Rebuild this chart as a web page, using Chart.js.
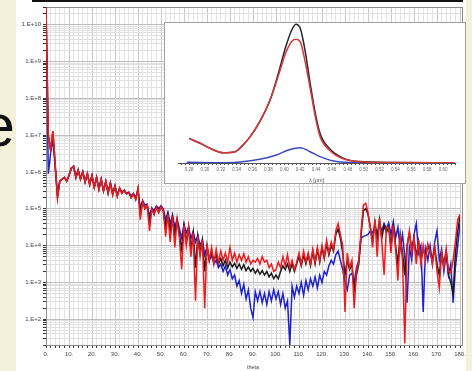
<!DOCTYPE html>
<html>
<head>
<meta charset="utf-8">
<script src="https://cdn.jsdelivr.net/npm/chart.js@4.4.1/dist/chart.umd.min.js"></script>
<style>
  html, body { margin: 0; padding: 0; }
  body { width: 472px; height: 371px; background: #f4f1da; position: relative; overflow: hidden; font-family: 'Liberation Sans', Arial, sans-serif; }
  #panel { position: absolute; left: 16px; top: 0; width: 450px; height: 371px; background: #fff; }
  #rule { position: absolute; left: 32px; top: 0; width: 431px; height: 2px; background: #111; }
  #bigE { position: absolute; left: -18px; top: 97px; font-size: 59px; line-height: 59px; color: #111; }
  #main { position: absolute; left: 0; top: 0; }
  #insetBox { position: absolute; left: 164px; top: 22px; width: 302px; height: 162px; box-sizing: border-box; background: #fff; border: 1px solid #a0a0a0; }
  #inset { position: absolute; left: 164px; top: 22px; }
</style>
</head>
<body>
<div id="panel"></div>
<div id="rule"></div>
<div id="bigE">e</div>
<canvas id="main" width="472" height="371"></canvas>
<div id="insetBox"></div>
<canvas id="inset" width="302" height="162"></canvas>
<script>
// scattering angle, one point per degree
const theta = [
    0, 1, 2, 3, 4, 5, 6, 7, 8, 9, 10, 11, 12, 13, 14, 15, 16, 17, 18, 19,
    20, 21, 22, 23, 24, 25, 26, 27, 28, 29, 30, 31, 32, 33, 34, 35, 36, 37, 38, 39,
    40, 41, 42, 43, 44, 45, 46, 47, 48, 49, 50, 51, 52, 53, 54, 55, 56, 57, 58, 59,
    60, 61, 62, 63, 64, 65, 66, 67, 68, 69, 70, 71, 72, 73, 74, 75, 76, 77, 78, 79,
    80, 81, 82, 83, 84, 85, 86, 87, 88, 89, 90, 91, 92, 93, 94, 95, 96, 97, 98, 99,
    100, 101, 102, 103, 104, 105, 106, 107, 108, 109, 110, 111, 112, 113, 114, 115, 116, 117, 118, 119,
    120, 121, 122, 123, 124, 125, 126, 127, 128, 129, 130, 131, 132, 133, 134, 135, 136, 137, 138, 139,
    140, 141, 142, 143, 144, 145, 146, 147, 148, 149, 150, 151, 152, 153, 154, 155, 156, 157, 158, 159,
    160, 161, 162, 163, 164, 165, 166, 167, 168, 169, 170, 171, 172, 173, 174, 175, 176, 177, 178, 179,
    180,
];

// values, written as powers of ten (10^x)
const redExp = [
    10.48, 7.0, 6.6, 7.1, 6.2, 5.3, 5.75, 5.8, 5.85, 5.75,
    5.9, 6.1, 6.15, 5.85, 6.05, 5.8, 6.0, 5.72, 5.95, 5.65,
    5.9, 5.58, 5.85, 5.52, 5.8, 5.48, 5.74, 5.42, 5.7, 5.38,
    5.62, 5.34, 5.56, 5.42, 5.5, 5.4, 5.44, 5.3, 5.4, 5.25,
    5.55, 4.7, 5.2, 5.0, 5.1, 4.4, 5.0, 4.85, 5.05, 4.9,
    5.05, 4.95, 4.25, 4.85, 4.1, 4.8, 3.95, 4.7, 4.2, 3.35,
    4.55, 4.0, 4.5, 3.7, 4.35, 2.5, 4.25, 3.7, 4.15, 2.3,
    4.05, 3.6, 3.95, 3.5, 3.9, 3.55, 3.85, 3.6, 3.8, 3.55,
    3.95, 3.6, 3.8, 3.55, 3.75, 3.6, 3.78, 3.55, 3.7, 3.5,
    3.6, 3.55, 3.65, 3.5, 3.7, 3.55, 3.6, 3.4, 3.5, 3.3,
    3.35, 3.55, 3.4, 3.7, 3.45, 3.75, 3.4, 3.6, 3.35, 3.55,
    3.8, 3.5, 3.85, 3.55, 3.8, 3.5, 3.9, 3.55, 3.95, 3.6,
    4.0, 3.7, 4.15, 3.8, 4.1, 3.9, 4.4, 4.6, 4.3, 4.0,
    2.2, 3.8, 3.4, 3.6, 2.3, 3.3, 3.6, 4.4, 5.1, 5.15,
    4.9, 4.5, 3.95, 4.7, 3.7, 4.75, 4.1, 3.2, 4.5, 4.5,
    3.8, 4.55, 3.9, 3.05, 4.3, 3.6, 1.35, 4.0, 4.4, 3.8,
    4.2, 3.5, 4.15, 3.5, 4.0, 3.6, 4.05, 3.85, 3.5, 3.95,
    3.3, 2.85, 3.8, 3.4, 3.9, 3.3, 3.25, 3.6, 4.1, 4.7,
    4.85,
];

const blackExp = [
    10.48, 7.0, 6.6, 7.1, 6.2, 5.3, 5.75, 5.8, 5.85, 5.75,
    5.9, 6.1, 6.15, 5.85, 6.05, 5.8, 6.0, 5.72, 5.95, 5.65,
    5.9, 5.58, 5.85, 5.52, 5.8, 5.48, 5.74, 5.42, 5.7, 5.38,
    5.62, 5.34, 5.56, 5.42, 5.5, 5.4, 5.44, 5.3, 5.4, 5.25,
    5.55, 4.9, 5.2, 5.0, 5.1, 4.6, 5.0, 4.85, 5.05, 4.9,
    5.05, 4.95, 4.5, 4.85, 4.4, 4.8, 4.3, 4.7, 4.3, 3.9,
    4.55, 4.1, 4.5, 3.9, 4.35, 3.4, 4.25, 3.8, 4.15, 3.3,
    4.0, 3.6, 3.85, 3.6, 3.75, 3.5, 3.65, 3.45, 3.6, 3.4,
    3.55, 3.42, 3.52, 3.38, 3.5, 3.35, 3.48, 3.32, 3.42, 3.3,
    3.38, 3.25, 3.35, 3.22, 3.32, 3.2, 3.3, 3.15, 3.25, 3.1,
    3.2, 3.1, 3.3, 3.45, 3.35, 3.5, 3.3, 3.5, 3.3, 3.5,
    3.7, 3.45, 3.75, 3.5, 3.75, 3.45, 3.85, 3.5, 3.9, 3.55,
    3.95, 3.65, 4.05, 3.75, 4.0, 3.85, 4.3, 4.45, 4.2, 3.8,
    3.2, 3.6, 3.35, 3.5, 2.8, 3.2, 3.5, 4.3, 4.95, 5.0,
    4.85, 4.5, 4.1, 4.65, 4.2, 4.7, 4.2, 4.55, 4.35, 4.5,
    4.0, 4.5, 4.0, 3.5, 4.3, 3.8, 3.2, 4.0, 4.35, 3.9,
    4.2, 3.7, 4.1, 3.6, 3.9, 3.7, 4.0, 3.85, 3.6, 3.95,
    3.5, 3.2, 3.8, 3.5, 3.85, 3.2, 3.0, 2.7, 3.8, 4.4,
    4.8,
];

const blueExp = [
    10.3, 5.95, 6.5, 6.9, 6.1, 5.4, 5.75, 5.8, 5.85, 5.75,
    5.9, 6.1, 6.15, 5.85, 6.05, 5.82, 6.0, 5.74, 5.95, 5.68,
    5.9, 5.6, 5.85, 5.55, 5.8, 5.5, 5.74, 5.45, 5.7, 5.42,
    5.62, 5.38, 5.56, 5.45, 5.5, 5.42, 5.45, 5.35, 5.42, 5.3,
    5.5, 5.0, 5.22, 5.1, 5.12, 4.8, 5.02, 4.95, 5.08, 5.0,
    5.08, 5.0, 4.7, 4.9, 4.6, 4.82, 4.5, 4.72, 4.45, 4.2,
    4.58, 4.35, 4.5, 4.2, 4.38, 4.1, 4.28, 4.0, 4.15, 3.75,
    3.95, 3.6, 3.75, 3.5, 3.6, 3.4, 3.5, 3.3, 3.45, 3.2,
    3.35, 3.1, 3.2, 2.9, 3.05, 2.7, 2.95, 2.55, 2.8, 2.3,
    2.05, 2.75, 2.5, 2.75, 2.45, 2.7, 2.4, 2.75, 2.5, 2.8,
    2.55, 2.75, 2.4, 2.7, 2.3, 2.5, 1.3, 2.9, 2.6, 2.9,
    2.7, 3.0, 2.65, 3.05, 2.8, 3.1, 2.9, 3.15, 2.85, 3.2,
    3.0, 3.3, 3.2, 3.45, 3.6, 3.5, 3.75, 3.85, 3.6, 3.35,
    3.0, 2.8, 3.2, 3.25, 3.0, 3.4, 3.6, 4.2, 4.25, 4.27,
    4.3, 4.4, 4.35, 4.5, 4.3, 4.55, 4.4, 4.6, 4.45, 4.62,
    4.3, 4.65, 4.2, 4.5, 3.9, 4.3, 3.7, 2.45, 3.95, 3.6,
    4.3, 4.6, 3.8, 4.0, 2.2, 3.9, 3.6, 4.0, 3.5, 4.1,
    4.4, 3.6, 3.9, 3.3, 3.8, 3.2, 3.5, 2.45, 3.4, 4.0,
    4.6,
];

// y axis decades and their labels
const yDecades = [1e2, 1e3, 1e4, 1e5, 1e6, 1e7, 1e8, 1e9, 1e10];
const yTickLabels = ['1.E+2', '1.E+3', '1.E+4', '1.E+5', '1.E+6', '1.E+7', '1.E+8', '1.E+9', '1.E+10'];

// inset: spectrum vs wavelength (arbitrary units)
const lambdaRB = [0.28, 0.294, 0.311, 0.323, 0.338, 0.346, 0.357, 0.369, 0.382, 0.3925, 0.401, 0.409,
    0.4145, 0.42, 0.426, 0.4325, 0.439, 0.445, 0.458, 0.474, 0.495, 0.537, 0.615];
const insetBlack = [17.5, 14.0, 9.2, 7.3, 8.0, 11.6, 18.7, 29.3, 44.7, 63.6, 81, 94,
    98.4, 95.5, 80.1, 56.5, 35.2, 21, 9.5, 3.5, 1.0, 0.3, 0.1];
const insetRed = [17.5, 14.0, 9.2, 7.3, 8.0, 11.6, 18.7, 29.3, 44.7, 62, 77, 86,
    87.7, 86, 72.3, 53, 32.8, 18.7, 8.5, 3.0, 0.9, 0.3, 0.1];
const lambdaBlue = [0.277, 0.327, 0.369, 0.39, 0.405, 0.42, 0.4325, 0.445, 0.462, 0.495, 0.615];
const insetBlue = [0.5, 0.2, 2.6, 5.7, 9.2, 10.9, 8.0, 4.5, 1.4, 0.2, 0.1];
const insetLabelTicks = [0.28, 0.30, 0.32, 0.34, 0.36, 0.38, 0.40, 0.42, 0.44, 0.46, 0.48,
    0.50, 0.52, 0.54, 0.56, 0.58, 0.60];

const FONT = "'Liberation Sans', Arial, sans-serif";

function toPoints(xs, exps) {
    return xs.map((x, i) => ({ x, y: 10 ** exps[i] }));
}
function xyPoints(xs, ys) {
    return xs.map((x, i) => ({ x, y: ys[i] }));
}

const plotFrame = {
    id: 'plotFrame',
    beforeDatasetsDraw(chart) {
        const { ctx, chartArea: a } = chart;
        ctx.save();
        ctx.strokeStyle = '#8c8c8c';
        ctx.lineWidth = 1;
        ctx.strokeRect(a.left + 0.5, a.top + 0.5, a.width + 2, a.height);
        ctx.restore();
    },
};

// ---------------- main chart ----------------
const lineStyle = { pointRadius: 0, borderWidth: 1.5, tension: 0, fill: false };

new Chart(document.getElementById('main'), {
    type: 'line',
    data: {
        datasets: [
            { label: 'red', data: toPoints(theta, redExp), borderColor: '#ec1b1f', ...lineStyle },
            { label: 'black', data: toPoints(theta, blackExp), borderColor: '#1a1a1a', ...lineStyle },
            { label: 'blue', data: toPoints(theta, blueExp), borderColor: '#1f22c8', ...lineStyle },
        ],
    },
    options: {
        responsive: false,
        animation: false,
        layout: { padding: { left: 16, top: 7, right: 12, bottom: 0 } },
        plugins: { legend: { display: false }, tooltip: { enabled: false } },
        scales: {
            x: {
                type: 'linear',
                min: 0,
                max: 180,
                afterBuildTicks(axis) {
                    const t = [];
                    for (let v = 0; v <= 180; v += 2) t.push({ value: v });
                    axis.ticks = t;
                },
                ticks: {
                    autoSkip: false,
                    maxRotation: 0,
                    padding: 3,
                    color: '#444',
                    font: { family: FONT, size: 6 },
                    callback: v => (v % 10 === 0 ? `${v}.` : ''),
                },
                grid: {
                    color: c => (c.tick && c.tick.value % 10 === 0 ? '#c8c8c8' : '#e3e3e3'),
                    tickLength: 3,
                    tickColor: '#333',
                },
                border: { color: '#333' },
                title: {
                    display: true, text: 'theta', color: '#444', padding: 0,
                    font: { family: FONT, size: 5.5 },
                },
                afterFit(scale) { scale.height = 26; },
            },
            y: {
                type: 'logarithmic',
                min: 20,
                max: 3e10,
                afterBuildTicks(axis) {
                    const t = [];
                    for (let e = 1; e <= 10; e++) {
                        for (let m = 1; m <= 9; m++) {
                            const v = m * 10 ** e;
                            if (v >= axis.min && v <= axis.max) t.push({ value: v });
                        }
                    }
                    axis.ticks = t;
                },
                ticks: {
                    autoSkip: false,
                    padding: 2,
                    color: '#444',
                    font: { family: FONT, size: 6 },
                    callback(v) {
                        const i = yDecades.indexOf(v);
                        return i >= 0 ? yTickLabels[i] : '';
                    },
                },
                grid: {
                    color: c => (c.tick && yDecades.includes(c.tick.value) ? '#bdbdbd' : '#e0e0e0'),
                    tickLength: 3,
                    tickColor: '#333',
                },
                border: { color: '#333' },
                afterFit(scale) { scale.width = 30; },
            },
        },
    },
    plugins: [plotFrame],
});

// ---------------- inset ----------------
const insetLine = { pointRadius: 0, borderWidth: 1.5, cubicInterpolationMode: 'monotone', fill: false };

new Chart(document.getElementById('inset'), {
    type: 'line',
    data: {
        datasets: [
            { label: 'red', data: xyPoints(lambdaRB, insetRed), borderColor: '#d8363a', ...insetLine },
            { label: 'black', data: xyPoints(lambdaRB, insetBlack), borderColor: '#262626', ...insetLine },
            { label: 'blue', data: xyPoints(lambdaBlue, insetBlue), borderColor: '#3a48bf', ...insetLine },
        ],
    },
    options: {
        responsive: false,
        animation: false,
        layout: { padding: { left: 14, top: 0, right: 11, bottom: 0 } },
        plugins: { legend: { display: false }, tooltip: { enabled: false } },
        scales: {
            x: {
                type: 'linear',
                min: 0.266,
                max: 0.615,
                afterBuildTicks(axis) {
                    const t = [];
                    for (let i = 54; i <= 123; i++) t.push({ value: i * 0.005 });
                    axis.ticks = t;
                },
                ticks: {
                    autoSkip: false,
                    maxRotation: 0,
                    padding: 2,
                    color: '#666',
                    font: { family: FONT, size: 4.5 },
                    callback(v) {
                        const hit = insetLabelTicks.find(l => Math.abs(l - v) < 1e-6);
                        return hit === undefined ? '' : hit.toFixed(2);
                    },
                },
                grid: { drawOnChartArea: false, tickLength: 2, tickColor: '#555' },
                border: { color: '#555' },
                title: {
                    display: true, text: 'λ [µm]', color: '#555', padding: 0,
                    font: { family: FONT, size: 5.5 },
                },
                afterFit(scale) { scale.height = 21; },
            },
            y: { display: false, min: 0, max: 100 },
        },
    },
});
</script>
</body>
</html>
